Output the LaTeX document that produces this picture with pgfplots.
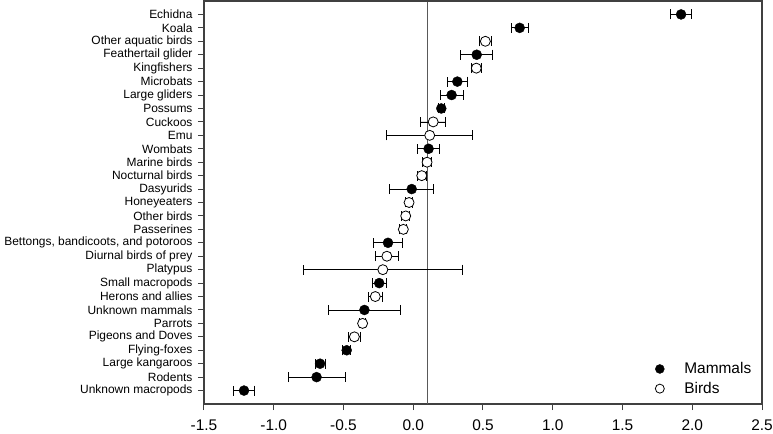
\documentclass[border=0pt]{standalone}
\usepackage{pgfplots}
\pgfplotsset{compat=1.18}
\usepackage{fontspec}
\setmainfont{Liberation Sans}

% y = row position (1 = bottom), x = effect, e = half-width of the interval
\pgfplotstableread{
y x e
29 1.92 0.077
28 0.763 0.06
26 0.455 0.115
24 0.316 0.07
23 0.275 0.083
22 0.201 0.02
19 0.110 0.08
16 -0.011 0.158
12 -0.181 0.105
9 -0.244 0.05
7 -0.350 0.26
4 -0.477 0.03
3 -0.668 0.035
2 -0.693 0.205
1 -1.213 0.075
}\mammals

\pgfplotstableread{
y x e
27 0.517 0.04
25 0.452 0.035
21 0.143 0.09
20 0.118 0.307
18 0.099 0.034
17 0.061 0.03
15 -0.030 0.025
14 -0.054 0.03
13 -0.071 0.025
11 -0.189 0.08
10 -0.218 0.57
8 -0.272 0.05
6 -0.363 0.02
5 -0.422 0.04
}\birds

\begin{document}
\begin{tikzpicture}
\begin{axis}[
    scale only axis,
    width=558bp, height=403bp,
    xmin=-1.5, xmax=2.5,
    ymin=0, ymax=30,
    clip=false,
    axis lines=box,
    xtick={-1.5,-1,-0.5,0,0.5,1,1.5,2,2.5},
    xticklabels={-1.5,-1.0,-0.5,0.0,0.5,1.0,1.5,2.0,2.5},
    ytick={1,...,29},
    yticklabels={Unknown macropods,Rodents,Large kangaroos,Flying-foxes,
        Pigeons and Doves,Parrots,Unknown mammals,Herons and allies,
        Small macropods,Platypus,Diurnal birds of prey,
        {Bettongs, bandicoots, and potoroos},Passerines,Other birds,
        Honeyeaters,Dasyurids,Nocturnal birds,Marine birds,Wombats,Emu,
        Cuckoos,Possums,Large gliders,Microbats,Kingfishers,
        Feathertail glider,Other aquatic birds,Koala,Echidna},
    xtick pos=bottom, ytick pos=left,
    tick align=outside,
    major tick length=6bp,
    axis line style={black!75, line width=1.1bp},
    every tick/.style={black!75, line width=1bp},
    x tick label style={font=\fontsize{15.5}{17}\selectfont,
        inner sep=0pt, text depth=0pt, yshift=-9.5bp},
    y tick label style={font=\fontsize{12}{14}\selectfont, xshift=-2bp},
    legend style={draw=none, fill=none, at={(rel axis cs:0.99,0.012)},
        anchor=south east, font=\fontsize{15.5}{18}\selectfont,
        row sep=3bp, legend cell align=left},
    legend image post style={mark size=4.5bp},
]
\addplot[black!65, line width=0.9bp, forget plot] coordinates {(0.1,0) (0.1,30)};
% frame: top and right edges
\addplot[black!75, line width=1.1bp, forget plot] coordinates {(-1.5,30) (2.5,30) (2.5,0)};

\addplot[only marks, mark=*, mark size=5bp, black,
    error bars/.cd, x dir=both, x explicit, error mark=|,
    error bar style={black, line width=0.8bp},
    error mark options={black, mark size=5bp, line width=0.8bp}]
    table[x=x, y=y, x error=e] {\mammals};
\addlegendentry{\hspace{18bp}Mammals}

\addplot[only marks, mark=*, mark size=5bp, draw=black, fill=white,
    mark options={fill=white, line width=0.8bp},
    error bars/.cd, x dir=both, x explicit, error mark=|,
    error bar style={black, line width=0.8bp},
    error mark options={black, mark size=5bp, line width=0.8bp}]
    table[x=x, y=y, x error=e] {\birds};
\addlegendentry{\hspace{18bp}Birds}
\end{axis}
\pgfresetboundingbox
\path[use as bounding box] ([shift={(-204bp,-30bp)}]current axis.south west)
    rectangle ([shift={(11bp,1bp)}]current axis.north east);
\end{tikzpicture}
\end{document}
